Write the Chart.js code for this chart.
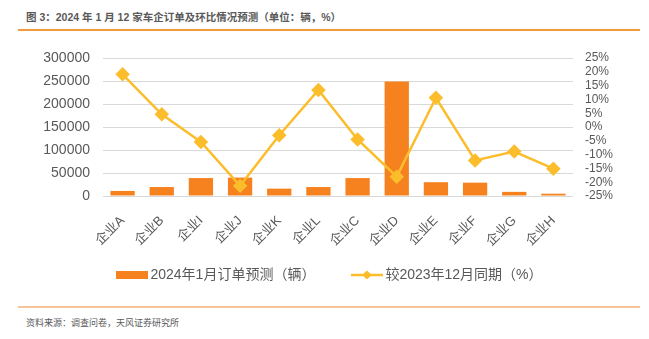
<!DOCTYPE html>
<html>
<head>
<meta charset="utf-8">
<script src="https://cdn.jsdelivr.net/npm/chart.js@4.4.1/dist/chart.umd.min.js"></script>
<style>
  body { margin: 0; background: #fff; width: 649px; height: 339px; position: relative; overflow: hidden;
         font-family: "Liberation Sans", "Noto Sans CJK SC", sans-serif; }
  .title { position: absolute; left: 26px; top: 9px; font-size: 10.5px; font-weight: bold; color: #595959; white-space: nowrap; }
  .topline { position: absolute; left: 18px; top: 29px; width: 622px; height: 2px; background: #F39A3C; }
  .botline { position: absolute; left: 18px; top: 306px; width: 622px; height: 2px; background: #F7C49A; }
  .source { position: absolute; left: 26px; top: 316px; font-size: 9px; color: #595959; white-space: nowrap; }
  #wrap { position: absolute; left: 0; top: 35px; width: 649px; height: 257px; }
</style>
</head>
<body>
<div class="title">图 3：2024 年 1 月 12 家车企订单及环比情况预测（单位：辆，%）</div>
<div class="topline"></div>
<div id="wrap"><canvas id="chart"></canvas></div>
<div class="botline"></div>
<div class="source">资料来源：调查问卷，天风证券研究所</div>
<script>
// categories and values
const companies = ["企业A", "企业B", "企业I", "企业J", "企业K", "企业L", "企业C", "企业D", "企业E", "企业F", "企业G", "企业H"];
const orders = [11000, 19500, 39000, 40000, 16000, 19500, 39000, 249000, 30000, 29000, 9000, 5000];
const momChange = [19.1, 4.6, -5.4, -21.3, -3.0, 13.4, -4.5, -18.0, 10.6, -12.1, -8.9, -15.1];
const leftTicks = [0, 50000, 100000, 150000, 200000, 250000, 300000];
const rightTicks = [-25, -20, -15, -10, -5, 0, 5, 10, 15, 20, 25];

const barColor = "#F5821F";
const lineColor = "#FBBD2B";
const fontFamily = '"Liberation Sans", "Noto Sans CJK SC", sans-serif';

// legend swatches: 70px wide image, the visible part sits in the right 32px
function barSwatch() {
    const c = document.createElement("canvas");
    c.width = 70; c.height = 8;
    const g = c.getContext("2d");
    g.fillStyle = barColor;
    g.fillRect(38, 0, 32, 8);
    return c;
}
function lineSwatch() {
    const c = document.createElement("canvas");
    c.width = 70; c.height = 12;
    const g = c.getContext("2d");
    g.strokeStyle = lineColor;
    g.lineWidth = 2.5;
    g.beginPath(); g.moveTo(38, 6); g.lineTo(70, 6); g.stroke();
    g.fillStyle = lineColor;
    g.beginPath(); g.moveTo(54, 1.5); g.lineTo(59, 6); g.lineTo(54, 10.5); g.lineTo(49, 6); g.closePath(); g.fill();
    return c;
}

const ctx = document.getElementById("chart").getContext("2d");
const chart = new Chart(ctx, {
    data: {
        labels: companies,
        datasets: [{
            type: "line",
            label: "较2023年12月同期（%）",
            data: momChange,
            yAxisID: "yR",
            borderColor: lineColor,
            backgroundColor: lineColor,
            borderWidth: 2.5,
            pointStyle: "rectRot",
            pointRadius: 5.5,
            pointHoverRadius: 5.5,
            tension: 0,
            order: 1
        }, {
            type: "bar",
            label: "2024年1月订单预测（辆）",
            data: orders,
            yAxisID: "yL",
            backgroundColor: barColor,
            barPercentage: 0.62,
            categoryPercentage: 1,
            order: 2
        }]
    },
    options: {
        responsive: true,
        maintainAspectRatio: false,
        animation: false,
        layout: { padding: { top: 23, left: 0, right: 24, bottom: 0 } },
        plugins: {
            tooltip: { enabled: false },
            legend: {
                position: "bottom",
                reverse: true,
                labels: {
                    usePointStyle: true,
                    pointStyleWidth: 61,
                    color: "#595959",
                    font: { family: fontFamily, size: 14 },
                    padding: 2,
                    generateLabels: function(ch) {
                        return ch.data.datasets.map(function(ds, i) {
                            return {
                                text: ds.label,
                                fontColor: "#595959",
                                pointStyle: ds.type === "bar" ? barSwatch() : lineSwatch(),
                                datasetIndex: i,
                                lineWidth: 0,
                                hidden: false
                            };
                        });
                    }
                }
            }
        },
        scales: {
            x: {
                grid: { display: false },
                border: { display: false },
                ticks: {
                    color: "#595959",
                    font: { family: fontFamily, size: 13 },
                    minRotation: 45,
                    maxRotation: 45,
                    padding: 9
                },
                afterFit: function(s) { s.height = 70; }
            },
            yL: {
                position: "left",
                min: 0,
                max: 300000,
                afterBuildTicks: function(s) { s.ticks = leftTicks.map(v => ({ value: v })); },
                grid: { color: "#D9D9D9", lineWidth: 1, drawTicks: false },
                border: { display: false },
                ticks: { color: "#595959", font: { family: fontFamily, size: 14 }, padding: 13, callback: v => String(v) },
                afterFit: function(s) { s.width = 103; }
            },
            yR: {
                position: "right",
                min: -25,
                max: 25,
                afterBuildTicks: function(s) { s.ticks = rightTicks.map(v => ({ value: v })); },
                grid: { display: false, drawTicks: false },
                border: { display: false },
                ticks: {
                    color: "#595959",
                    font: { family: fontFamily, size: 12 },
                    padding: 12,
                    autoSkip: false,
                    callback: v => v + "%"
                },
                afterFit: function(s) { s.width = 52; }
            }
        }
    }
});
</script>
</body>
</html>
